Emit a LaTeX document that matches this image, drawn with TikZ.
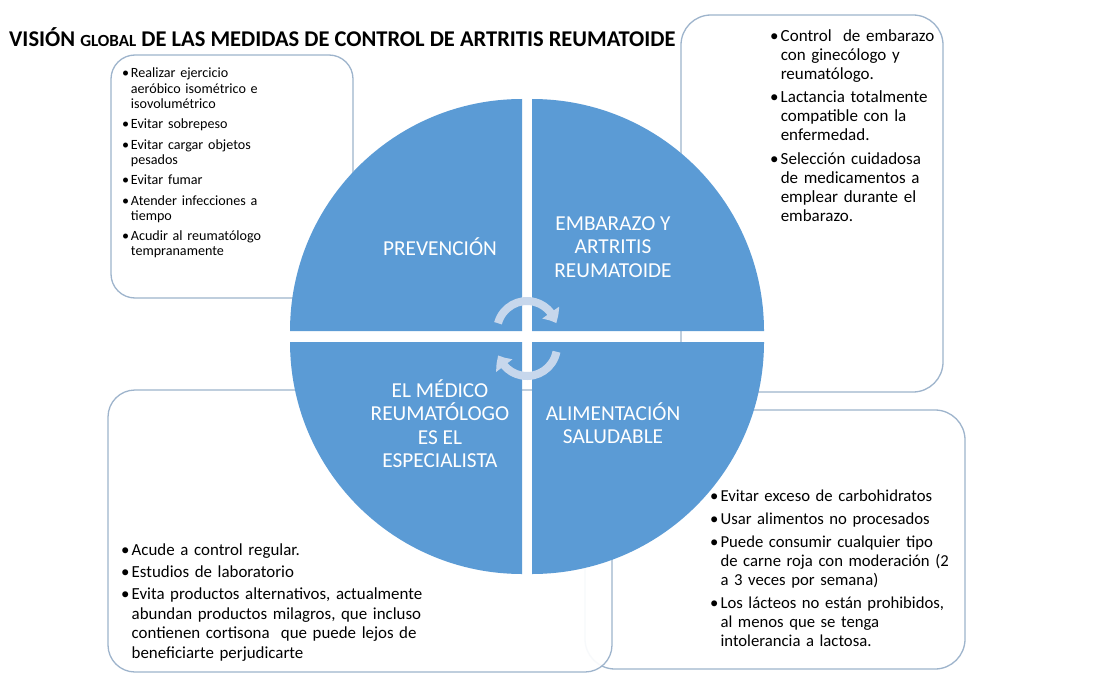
\documentclass[tikz,border=0pt]{standalone}
\usepackage{fontspec}
\setmainfont{Carlito}
\usetikzlibrary{arrows.meta,bending}
\definecolor{pie}{RGB}{91,155,213}
\definecolor{boxline}{RGB}{158,180,204}
\definecolor{arrowc}{RGB}{199,215,236}
\newcommand{\bul}[1]{\hangindent=0.62em\hangafter=1\noindent\makebox[0.62em][l]{\textbullet}#1\par}
\tikzset{
  box/.style={draw=boxline, line width=1.3pt, fill=white, rounded corners=#1, inner sep=0pt},
  quad/.style={fill=pie},
  qlabel/.style={text=white, font=\fontsize{21.3}{23.5}\selectfont, align=center, inner sep=0pt},
  bullets/.style={anchor=north west, inner sep=0pt, text width=#1, align=left},
  cyc/.style={draw=arrowc, line width=8pt, -{Triangle[length=12pt,width=20pt,bend]}}
}
\begin{document}
\begin{tikzpicture}[x=1pt,y=1pt]
\useasboundingbox (0,0) rectangle (1094,-682);
\fill[white] (0,0) rectangle (1094,-682);
% boxes
\node[box=30pt, minimum width=262pt, minimum height=377pt] (trbox) at (812,-203.5) {};
\node[box=30pt, minimum width=380pt, minimum height=259pt] (brbox) at (775,-539.5) {};
\node[box=27pt, minimum width=504pt, minimum height=282pt, fill opacity=0.92] (blbox) at (360,-531) {};
\node[box=24pt, minimum width=242pt, minimum height=243pt] (tlbox) at (232,-176.5) {};
% title
\node[anchor=west, inner sep=0pt, font=\fontsize{22.5}{26}\selectfont\bfseries] (title) at (9,-37)
  {VISIÓN {\fontsize{17}{20}\selectfont GLOBAL} DE LAS MEDIDAS DE CONTROL DE ARTRITIS REUMATOIDE};
% quadrants
\fill[quad] (522,-331) -- ++(180:232) arc[start angle=180,end angle=90,radius=232] -- cycle;
\fill[quad] (532,-331) -- ++(90:232) arc[start angle=90,end angle=0,radius=232] -- cycle;
\fill[quad] (522,-342) -- ++(180:232) arc[start angle=180,end angle=270,radius=232] -- cycle;
\fill[quad] (532,-342) -- ++(0:232) arc[start angle=0,end angle=-90,radius=232] -- cycle;
% cycle arrows
\coordinate (c1) at (527,-331);
\coordinate (c2) at (527,-346);
\draw[cyc] (c1) ++(165:30) arc[start angle=165,end angle=15,radius=30];
\draw[cyc] (c2) ++(-11:30) arc[start angle=-11,end angle=-162,radius=30];
% quadrant labels
\node[qlabel] (prev) at (440,-247) {PREVENCIÓN};
\node[qlabel] (emb) at (613,-247) {EMBARAZO Y\\ARTRITIS\\REUMATOIDE};
\node[qlabel] (med) at (440,-423.5) {EL MÉDICO\\REUMATÓLOGO\\ES EL\\ESPECIALISTA};
\node[qlabel] (ali) at (613,-423) {ALIMENTACIÓN\\SALUDABLE};
% lists
\node[bullets=230pt, font=\fontsize{14.1}{15.3}\selectfont] (tltext) at (122,-68) {\setlength{\parskip}{5pt}%
\bul{Realizar ejercicio\newline aeróbico isométrico e\newline isovolumétrico}
\bul{Evitar sobrepeso}
\bul{Evitar cargar objetos\newline pesados}
\bul{Evitar fumar}
\bul{Atender infecciones a\newline tiempo}
\bul{Acudir al reumatólogo\newline tempranamente}};
\node[bullets=230pt, font=\fontsize{17}{19}\selectfont] (trtext) at (770,-29) {\setlength{\parskip}{4.5pt}%
\bul{Control\ \ de embarazo\newline con ginecólogo y\newline reumatólogo.}
\bul{Lactancia totalmente\newline compatible con la\newline enfermedad.}
\bul{Selección cuidadosa\newline de medicamentos a\newline emplear durante el\newline embarazo.}};
\node[bullets=420pt, font=\fontsize{16.9}{19.5}\selectfont] (bltext) at (121,-544) {\setlength{\parskip}{2.5pt}%
\bul{Acude a control regular.}
\bul{Estudios de laboratorio}
\bul{Evita productos alternativos, actualmente\newline abundan productos milagros, que incluso\newline contienen cortisona\ \ que puede lejos de\newline beneficiarte perjudicarte}};
\node[bullets=300pt, font=\fontsize{16.7}{19}\selectfont] (brtext) at (710,-490) {\setlength{\parskip}{4pt}%
\bul{Evitar exceso de carbohidratos}
\bul{Usar alimentos no procesados}
\bul{Puede consumir cualquier tipo\newline de carne roja con moderación (2\newline a 3 veces por semana)}
\bul{Los lácteos no están prohibidos,\newline al menos que se tenga\newline intolerancia a lactosa.}};
\end{tikzpicture}
\end{document}
